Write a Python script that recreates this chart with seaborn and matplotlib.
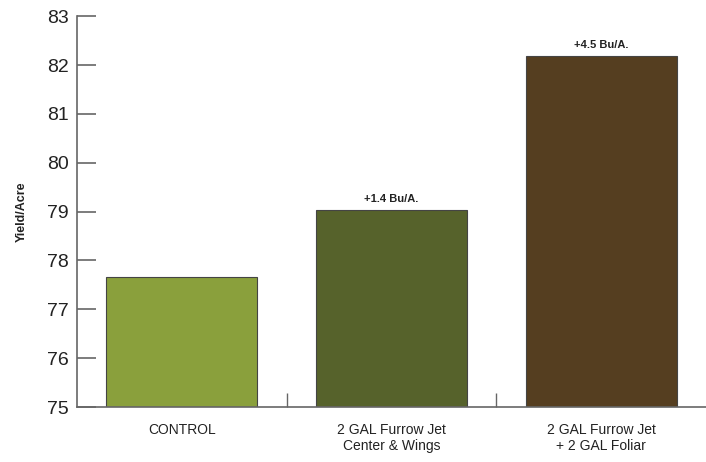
import numpy as np
import pandas as pd
import seaborn as sns
import matplotlib.pyplot as plt

# values
treatments = ["CONTROL", "2 GAL Furrow Jet\nCenter & Wings", "2 GAL Furrow Jet\n+ 2 GAL Foliar"]
yields = [77.66, 79.03, 82.18]
gains = ["", "+1.4 Bu/A.", "+4.5 Bu/A."]
bar_colors = ["#8aa03c", "#56622b", "#553e20"]

df = pd.DataFrame({"treatment": treatments, "yield": yields})

sns.set_style("white")
plt.rcParams["font.family"] = ["Liberation Sans Narrow", "Liberation Sans", "DejaVu Sans"]

fig = plt.figure(figsize=(7.06, 4.62), dpi=100)
ax = fig.add_axes([0.109, 0.119, 0.891, 0.846])

sns.barplot(data=df, x="treatment", y="yield", hue="treatment", palette=bar_colors,
            saturation=1, width=0.72, edgecolor="#444444", linewidth=0.8, legend=False, ax=ax)

# bars start at 75, not 0
for patch, y in zip(ax.patches, yields):
    patch.set_y(75)
    patch.set_height(y - 75)

for i, (y, txt) in enumerate(zip(yields, gains)):
    if txt:
        ax.text(i, y + 0.12, txt, ha="center", va="bottom", fontsize=8, fontweight="bold", color="#222222")

ax.set_ylim(75, 83)
ax.set_xlim(-0.5, 2.5)
ax.set_yticks(range(75, 84))
ax.tick_params(axis="y", left=True, direction="in", length=14, width=1.2, color="#666666",
               labelsize=14, pad=6, labelcolor="#222222")
ax.tick_params(axis="x", which="major", bottom=False, labelsize=10, pad=8, labelcolor="#222222")
ax.set_xticks([0.5, 1.5], minor=True)
ax.tick_params(axis="x", which="minor", bottom=True, direction="in", length=10, width=1, color="#666666")

ax.set_xlabel("")
ax.set_ylabel("Yield/Acre", fontsize=9, fontweight="bold", labelpad=14, color="#222222")

sns.despine(ax=ax)
for s in ["left", "bottom"]:
    ax.spines[s].set_color("#666666")
    ax.spines[s].set_linewidth(1.2)

fig.savefig("out.png", dpi=100)
